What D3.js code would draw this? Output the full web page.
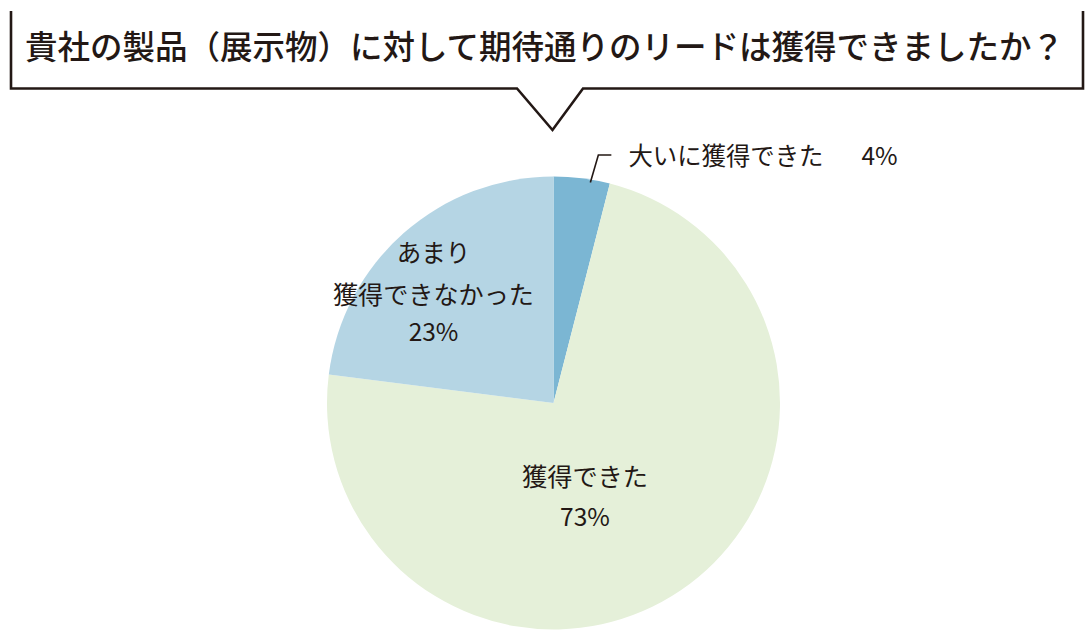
<!DOCTYPE html>
<html><head><meta charset="utf-8">
<script src="https://cdn.jsdelivr.net/npm/d3@7"></script>
<style>
html,body{margin:0;padding:0;background:#fff;}
svg{display:block;}
text{font-family:"Noto Sans CJK JP","Noto Sans",sans-serif;fill:#231815;}
</style></head>
<body>
<script>
const title = "貴社の製品（展示物）に対して期待通りのリードは獲得できましたか？";
const categories = ["大いに獲得できた", "獲得できた", "あまり獲得できなかった"];
const values = [4, 73, 23];
const colors = ["#7bb6d3", "#e5f0d9", "#b5d5e4"];

const W = 1088, H = 641;
const cx = 553.5, cy = 403, R = 226.5;
const svg = d3.select("body").append("svg").attr("width", W).attr("height", H);

// speech bubble
const bx0 = 11, bx1 = 1083, btop = 11, bbot = 88.5, px0 = 517, px1 = 583, pax = 552.5, pay = 130;
svg.append("path")
  .attr("d", `M${bx0},${btop} L${bx0},${bbot} L${px0},${bbot} L${pax},${pay} L${px1},${bbot} L${bx1},${bbot} L${bx1},${btop}`)
  .attr("fill", "none").attr("stroke", "#231815").attr("stroke-width", 2.6).attr("stroke-linejoin", "miter");
svg.append("text").attr("x", 25).attr("y", 59)
  .attr("font-size", 32.5).attr("font-weight", 500)
  .text(title);

// pie
const data = categories.map((c, i) => ({cat: c, value: values[i], color: colors[i]}));
const pie = d3.pie().value(d => d.value).sort(null);
const arc = d3.arc().innerRadius(0).outerRadius(R);
const g = svg.append("g").attr("transform", `translate(${cx},${cy})`);
const arcs = pie(data);
g.selectAll("path.slice").data(arcs).enter().append("path")
  .attr("class", "slice").attr("d", arc).attr("fill", d => d.data.color);

// labels
const fs = 24.5;
// slice 0: outside with leader
const a0 = arcs[0];
const mid0 = (a0.startAngle + a0.endAngle) / 2 + 0.04;
const p0 = [Math.sin(mid0) * (R - 3), -Math.cos(mid0) * (R - 3)];
g.append("path")
  .attr("d", `M${p0[0]},${p0[1]} L${p0[0] + 8},${-248} L${p0[0] + 21},${-248}`)
  .attr("fill", "none").attr("stroke", "#231815").attr("stroke-width", 1.6);
g.append("text").attr("x", 75).attr("y", -238.5).attr("font-size", fs)
  .attr("textLength", 195).attr("lengthAdjust", "spacingAndGlyphs")
  .text(categories[0]);
g.append("text").attr("x", 308).attr("y", -238.5).attr("font-size", fs)
  .text(values[0] + "%");

// slice 1
g.append("text").attr("x", 31.5).attr("y", 83).attr("text-anchor", "middle").attr("font-size", fs)
  .attr("textLength", 126).attr("lengthAdjust", "spacingAndGlyphs").text(categories[1]);
g.append("text").attr("x", 31.5).attr("y", 123).attr("text-anchor", "middle").attr("font-size", fs)
  .text(values[1] + "%");

// slice 2
g.append("text").attr("x", -120).attr("y", -141).attr("text-anchor", "middle").attr("font-size", fs)
  .text("あまり");
g.append("text").attr("x", -120).attr("y", -99).attr("text-anchor", "middle").attr("font-size", fs)
  .attr("textLength", 201).attr("lengthAdjust", "spacingAndGlyphs").text("獲得できなかった");
g.append("text").attr("x", -120).attr("y", -62).attr("text-anchor", "middle").attr("font-size", fs)
  .text(values[2] + "%");
</script>
</body></html>
